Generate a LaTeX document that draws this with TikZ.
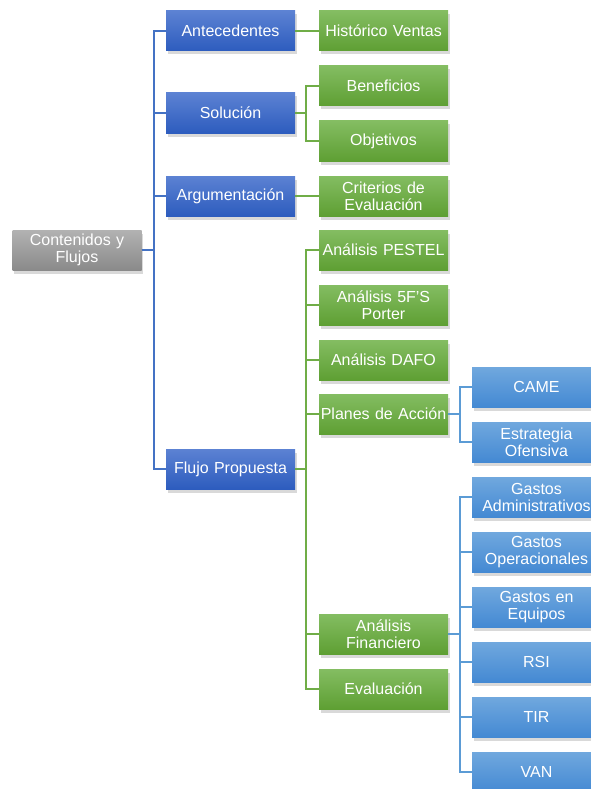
\documentclass[tikz,border=0pt]{standalone}
\usepackage{fontspec}
\setmainfont{Liberation Sans}
\usetikzlibrary{shadows}

\definecolor{greytop}{HTML}{B2B2B2}
\definecolor{greybot}{HTML}{8A8A8A}
\definecolor{bluetop}{HTML}{5C82D3}
\definecolor{bluebot}{HTML}{2D5CBE}
\definecolor{blueline}{HTML}{4472C4}
\definecolor{greentop}{HTML}{84BD62}
\definecolor{greenbot}{HTML}{5E9F33}
\definecolor{greenline}{HTML}{70AD47}
\definecolor{skytop}{HTML}{70A8DE}
\definecolor{skybot}{HTML}{4489D3}
\definecolor{skyline}{HTML}{5B9BD5}

\tikzset{
  box/.style={rectangle, minimum width=129pt, minimum height=40pt,
    text width=127pt, align=center, inner sep=0pt, text=white,
    font=\fontsize{16}{17}\selectfont,
    drop shadow={opacity=0.3, shadow xshift=1.5pt, shadow yshift=-3.5pt}},
  elbow/.style={to path={-- ++(#1,0) |- (\tikztotarget)}}
}

\begin{document}
\begin{tikzpicture}[x=1pt,y=-1pt]
      \useasboundingbox (0,0) rectangle (591,789);

      \node[box, top color=greytop, bottom color=greybot] (0) at (77,250) {Contenidos y\\Flujos};

      \begin{scope}[every node/.style={box, top color=bluetop, bottom color=bluebot}]
        \node (1) at (230.5,31)  {Antecedentes};
        \node (2) at (230.5,113) {Solución};
        \node (3) at (230.5,196) {Argumentación};
        \node (4) at (230.5,469) {Flujo Propuesta};
      \end{scope}

      \begin{scope}[every node/.style={box, top color=greentop, bottom color=greenbot}]
        \node (5)  at (383.5,31)  {Histórico Ventas};
        \node (6)  at (383.5,86)  {Beneficios};
        \node (7)  at (383.5,141) {Objetivos};
        \node (8)  at (383.5,196) {Criterios de\\Evaluación};
        \node (9)  at (383.5,250) {Análisis PESTEL};
        \node (10) at (383.5,305) {Análisis 5F’S\\Porter};
        \node (11) at (383.5,360) {Análisis DAFO};
        \node (12) at (383.5,414) {Planes de Acción};
        \node (13) at (383.5,634) {Análisis\\Financiero};
        \node (14) at (383.5,689) {Evaluación};
      \end{scope}

      \begin{scope}[every node/.style={box, top color=skytop, bottom color=skybot}]
        \node (15) at (536.5,387) {CAME};
        \node (16) at (536.5,442) {Estrategia\\Ofensiva};
        \node (17) at (536.5,497) {Gastos\\Administrativos};
        \node (18) at (536.5,552) {Gastos\\Operacionales};
        \node (19) at (536.5,607) {Gastos en\\Equipos};
        \node (20) at (536.5,662) {RSI};
        \node (21) at (536.5,717) {TIR};
        \node (22) at (536.5,772) {VAN};
      \end{scope}

      \begin{scope}[every edge/.style={draw, line width=1.6pt, blueline, elbow=12}]
        \path (0.east) edge (1.west);
        \path (0.east) edge (2.west);
        \path (0.east) edge (3.west);
        \path (0.east) edge (4.west);
      \end{scope}

      \begin{scope}[every edge/.style={draw, line width=1.6pt, greenline, elbow=11}]
        \path (1.east) edge (5.west);
        \path (2.east) edge (6.west);
        \path (2.east) edge (7.west);
        \path (3.east) edge (8.west);
        \path (4.east) edge (9.west);
        \path (4.east) edge (10.west);
        \path (4.east) edge (11.west);
        \path (4.east) edge (12.west);
        \path (4.east) edge (13.west);
        \path (4.east) edge (14.west);
      \end{scope}

      \begin{scope}[every edge/.style={draw, line width=1.6pt, skyline, elbow=12}]
        \path (12.east) edge (15.west);
        \path (12.east) edge (16.west);
        \path (13.east) edge (17.west);
        \path (13.east) edge (18.west);
        \path (13.east) edge (19.west);
        \path (13.east) edge (20.west);
        \path (13.east) edge (21.west);
        \path (13.east) edge (22.west);
      \end{scope}

    \end{tikzpicture}
\end{document}
